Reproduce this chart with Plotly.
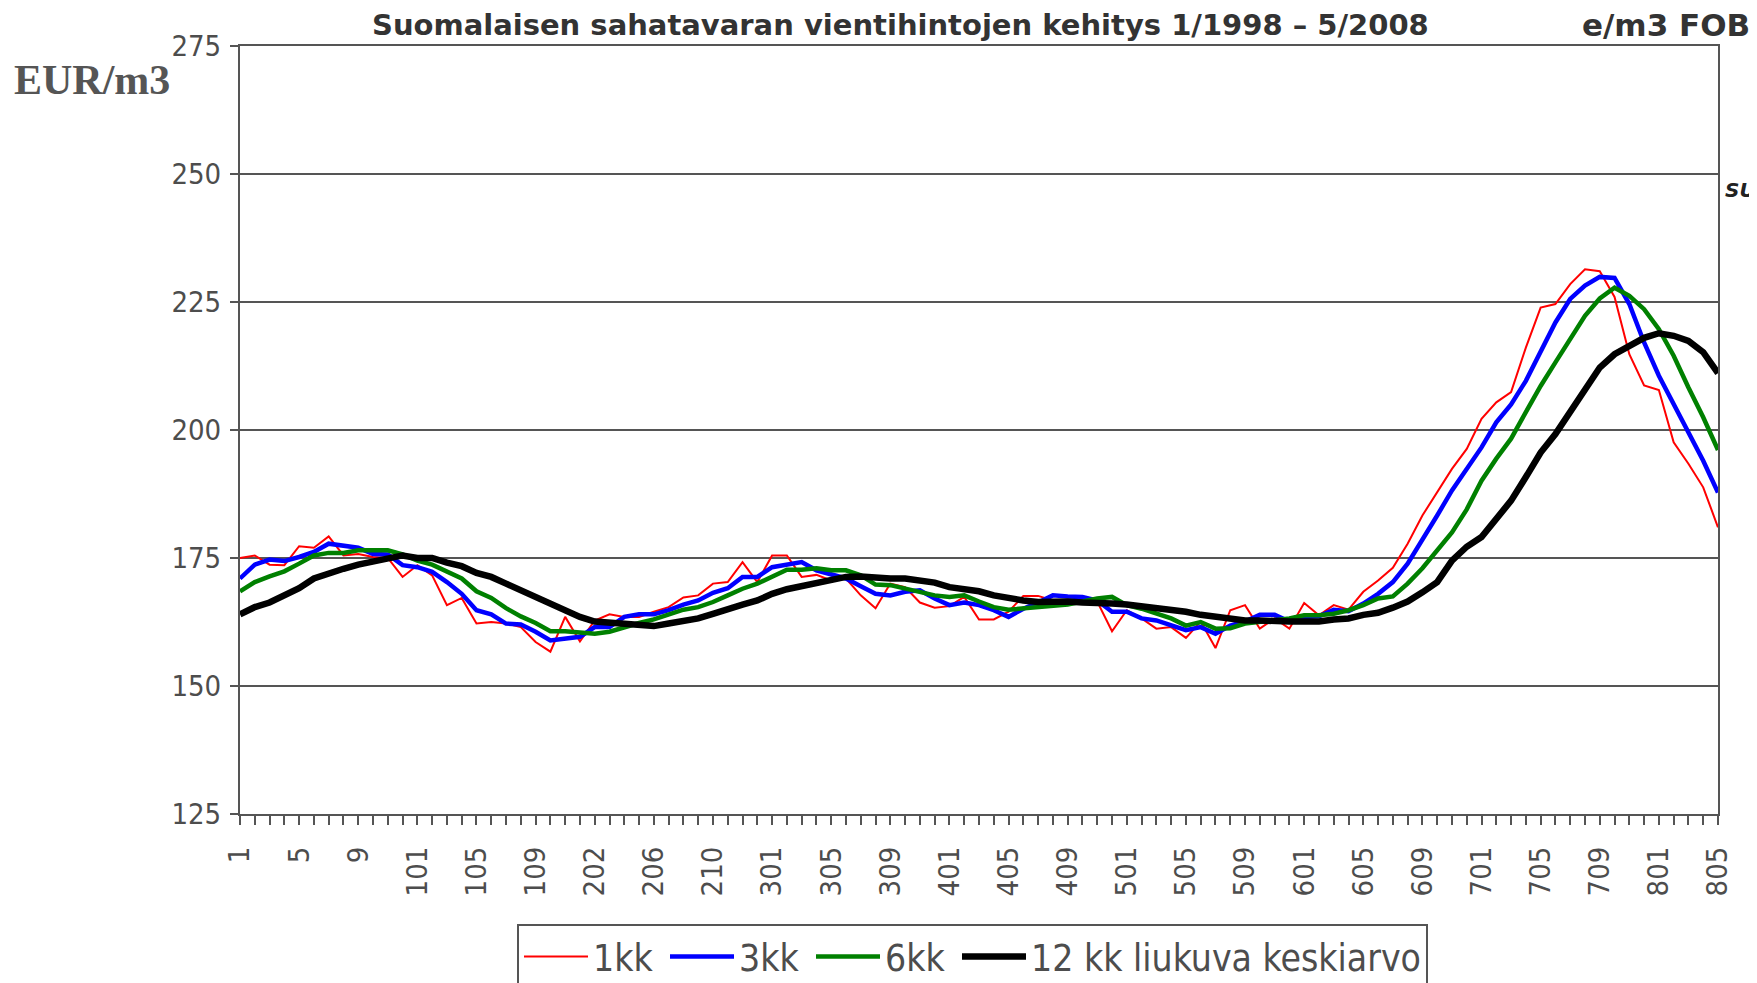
import plotly.graph_objects as go

# x tick labels (every 4th month), as printed on the reference
tick_labels = ["1", "5", "9", "101", "105", "109", "202", "206", "210", "301", "305", "309",
               "401", "405", "409", "501", "505", "509", "601", "605", "609", "701", "705",
               "709", "801", "805"]

kk1 = [175.0, 175.5, 173.7, 173.6, 177.3, 177.0, 179.2, 175.5, 175.8, 175.2,
       175.0, 171.3, 173.6, 171.6, 165.8, 167.2, 162.2, 162.5, 162.2, 161.5,
       158.6, 156.7, 163.5, 158.7, 162.8, 164.0, 163.5, 163.5, 164.5, 165.4,
       167.3, 167.7, 170.0, 170.3, 174.2, 170.3, 175.5, 175.5, 171.3, 171.7,
       170.6, 171.0, 167.7, 165.2, 170.0, 169.3, 166.3, 165.3, 165.6, 167.4,
       163.0, 163.0, 164.5, 167.6, 167.6, 166.7, 166.5, 167.1, 166.5, 160.7,
       164.8, 163.2, 161.2, 161.5, 159.4, 162.6, 157.4, 164.8, 165.8, 161.2,
       163.2, 161.2, 166.2, 163.8, 165.8, 164.9, 168.4, 170.6, 173.1, 177.8,
       183.3, 187.8, 192.4, 196.3, 202.2, 205.4, 207.4, 216.1, 223.9, 224.6,
       228.5, 231.4, 231.0, 226.0, 214.8, 208.7, 207.8, 197.6, 193.4, 188.8,
       181.0]

kk3 = [171.0, 173.7, 174.7, 174.4, 175.2, 176.2, 177.8, 177.3, 177.0, 175.8,
       175.7, 173.6, 173.2, 172.3, 170.3, 168.0, 164.8, 164.0, 162.2, 162.0,
       160.6, 158.9, 159.3, 159.6, 161.5, 161.5, 163.5, 164.0, 164.0, 164.8,
       165.9, 166.7, 168.2, 169.1, 171.3, 171.3, 173.2, 173.7, 174.2, 172.6,
       171.7, 171.0, 169.5, 168.0, 167.7, 168.4, 168.7, 167.1, 165.8, 166.3,
       165.8, 164.8, 163.5, 165.1, 166.3, 167.7, 167.5, 167.4, 166.7, 164.5,
       164.5, 163.2, 162.8, 161.8, 160.9, 161.5, 160.2, 161.8, 162.6, 163.9,
       163.9, 162.6, 163.5, 163.6, 164.9, 164.6, 166.1, 168.0, 170.3, 173.9,
       178.4, 183.3, 188.2, 192.4, 196.6, 201.5, 205.0, 209.6, 215.5, 221.0,
       225.6, 228.2, 229.9, 229.7, 224.6, 217.1, 210.6, 205.1, 199.9, 194.0,
       187.8]

kk6 = [168.5, 170.3, 171.4, 172.4, 173.9, 175.5, 176.0, 176.0, 176.5, 176.5,
       176.5, 175.7, 174.5, 173.7, 172.3, 171.0, 168.5, 167.2, 165.2, 163.6,
       162.3, 160.7, 160.7, 160.4, 160.2, 160.6, 161.5, 162.3, 163.0, 164.0,
       164.9, 165.4, 166.4, 167.7, 169.0, 170.0, 171.3, 172.7, 172.7, 173.0,
       172.6, 172.6, 171.6, 169.8, 169.7, 169.1, 168.4, 167.7, 167.4, 167.7,
       166.5, 165.4, 164.9, 165.1, 165.4, 165.6, 165.9, 166.5, 167.1, 167.4,
       165.8, 165.1, 164.1, 163.2, 161.8, 162.5, 161.2, 161.3, 162.2, 162.5,
       162.8, 163.2, 163.8, 163.8, 164.1, 164.8, 165.8, 167.1, 167.5, 170.0,
       173.0, 176.5, 180.0, 184.5, 190.1, 194.4, 198.3, 203.5, 208.6, 213.2,
       217.8, 222.3, 225.7, 227.8, 226.2, 223.6, 219.7, 214.5, 208.3, 202.5,
       196.1]

kk12 = [164.0, 165.4, 166.3, 167.7, 169.1, 171.0, 172.1, 172.9, 173.7, 174.2,
        174.7, 175.5, 175.0, 175.0, 174.1, 173.4, 172.1, 171.3, 170.0, 168.7,
        167.4, 165.9, 164.6, 163.5, 162.6, 162.4, 162.2, 161.7, 161.7, 162.2,
        162.6, 163.2, 164.1, 165.1, 165.9, 166.7, 168.0, 168.9, 169.5, 170.3,
        171.0, 171.3, 171.4, 171.1, 171.0, 171.0, 170.6, 170.2, 169.3, 169.0,
        168.5, 167.7, 167.1, 166.7, 166.4, 166.5, 166.5, 166.3, 166.3, 166.1,
        165.9, 165.6, 165.1, 165.1, 164.5, 163.9, 163.5, 163.0, 162.8, 162.8,
        162.6, 162.6, 162.6, 162.6, 163.0, 163.2, 163.9, 164.3, 165.3, 166.5,
        168.3, 170.3, 174.5, 177.2, 179.1, 182.7, 186.2, 190.8, 195.6, 199.2,
        203.5, 208.3, 212.2, 214.8, 216.4, 218.0, 218.9, 218.4, 217.4, 215.2,
        211.1]

series_names = ["1kk", "3kk", "6kk", "12 kk liukuva keskiarvo"]
series_colors = ["#ff0000", "#0000ff", "#008000", "#000000"]
series_widths = [2, 4.5, 4.5, 6.5]
legend_widths = [67, 67, 67, None]

x = list(range(len(kk1)))
tickvals = list(range(len(kk1)))
ticktext = []
for i in tickvals:
    ticktext.append(tick_labels[i // 4] if i % 4 == 0 else "")

fig = go.Figure()
for name, vals, col, w, lw in zip(series_names, [kk1, kk3, kk6, kk12], series_colors,
                                  series_widths, legend_widths):
    tr = go.Scatter(x=x, y=vals, mode="lines", name=name, line=dict(color=col, width=w))
    if lw is not None:
        tr.legendwidth = lw
    fig.add_trace(tr)

GRID = "#555555"
TXT = "#4d4d4d"
COND = "DejaVu Sans Condensed, Liberation Sans Narrow, Liberation Sans, sans-serif"
TICKFONT = dict(family=COND, size=29, color=TXT)

# plot area in page pixels: x 240..1718, y 45.5..814 (page body adds 8px offset)
PX0, PX1, PY0, PY1 = 240.0, 1718.0, 45.5, 814.0


def px(xp):
    return (xp - PX0) / (PX1 - PX0)


def py(yp):
    return (PY1 - yp) / (PY1 - PY0)


fig.update_layout(
    width=1757, height=983,
    margin=dict(l=232, r=47, t=37.5, b=177, autoexpand=False),
    paper_bgcolor="white", plot_bgcolor="white",
    showlegend=True,
    legend=dict(orientation="h", x=px(517), y=py(924), xanchor="left", yanchor="top",
                bordercolor=GRID, borderwidth=2, bgcolor="white", itemwidth=64,
                font=dict(family=COND, size=37, color=TXT)),
    xaxis=dict(range=[0, 100], tickmode="array", tickvals=tickvals, ticktext=ticktext,
               tickangle=-90, ticks="outside", ticklen=9, tickwidth=1.5, tickcolor=GRID,
               showline=True, linecolor=GRID, linewidth=2, mirror=True,
               showgrid=False, zeroline=False, tickfont=TICKFONT, ticklabelstandoff=10),
    yaxis=dict(range=[125, 275], dtick=25, tick0=125, ticks="outside", ticklen=8,
               tickwidth=2, tickcolor=GRID, showline=True, linecolor=GRID, linewidth=2,
               mirror=True, showgrid=True, gridcolor=GRID, gridwidth=2.2, zeroline=False,
               tickfont=TICKFONT, ticklabelstandoff=3),
)

fig.add_annotation(text="<b>Suomalaisen sahatavaran vientihintojen kehitys 1/1998 \u2013 5/2008</b>",
                   xref="paper", yref="paper", x=px(900), y=py(24),
                   xanchor="center", yanchor="middle", showarrow=False,
                   font=dict(family="DejaVu Sans, Verdana, sans-serif", size=29, color="#333333"))
fig.add_annotation(text="<b>e/m3 FOB</b>",
                   xref="paper", yref="paper", x=px(1752), y=py(24),
                   xanchor="right", yanchor="middle", showarrow=False,
                   font=dict(family="DejaVu Sans, Verdana, sans-serif", size=31, color="#333333"))
fig.add_annotation(text="<b>EUR/m3</b>",
                   xref="paper", yref="paper", x=px(12), y=py(80),
                   xanchor="left", yanchor="middle", showarrow=False,
                   font=dict(family="Liberation Serif, Times New Roman, serif", size=42, color="#555555"))
fig.add_annotation(text="<b><i>SU</i></b>",
                   xref="paper", yref="paper", x=px(1723), y=py(190),
                   xanchor="left", yanchor="middle", showarrow=False,
                   font=dict(family="DejaVu Sans, Verdana, sans-serif", size=20, color="#222222"))

fig.write_html("out.html")
